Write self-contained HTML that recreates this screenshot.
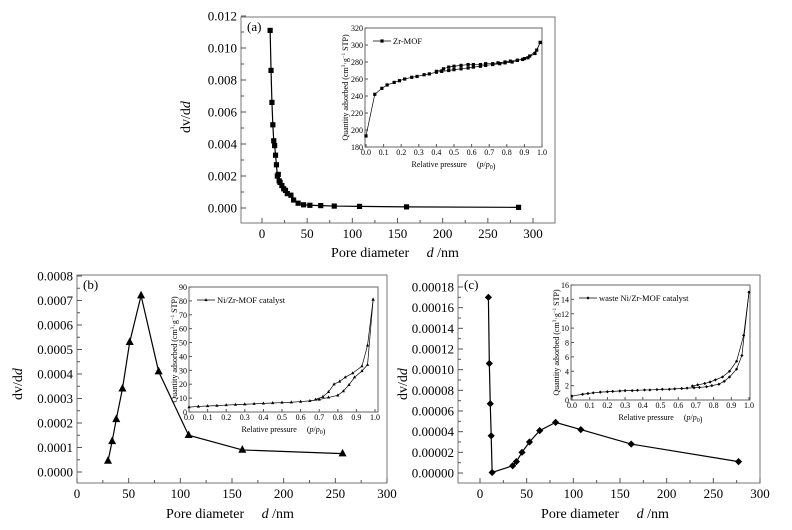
<!DOCTYPE html>
<html><head><meta charset="utf-8"><style>
body{margin:0;background:#fff}
svg{display:block;font-family:"Liberation Serif",serif}
</style></head><body>
<svg id="s" width="792" height="530" viewBox="0 0 792 530"></svg>
<script>
// Panel (a) data
const aD=[9,10,11,12,13,14,15,16,17,18,19,20,22,24,26,28,32,35,40,46,53,65,80,108,160,284];
const aV=[0.0111,0.0086,0.0066,0.0052,0.0042,0.0039,0.0033,0.0027,0.0020,0.0021,0.0017,0.0016,0.0014,0.0012,0.0011,0.0009,0.0008,0.0005,0.0003,0.0002,0.00017,0.00015,0.00012,0.0001,0.00007,0.00004];
const aYTicks=[0,0.002,0.004,0.006,0.008,0.010,0.012];
const aYLabels=["0.000","0.002","0.004","0.006","0.008","0.010","0.012"];
const aInsAdsP=[0,0.05,0.09,0.12,0.16,0.19,0.22,0.26,0.29,0.33,0.36,0.4,0.43,0.47,0.5,0.54,0.58,0.61,0.65,0.68,0.72,0.76,0.79,0.83,0.86,0.9,0.93,0.97,0.99];
const aInsAdsQ=[193,242,249,253,256,258,260,262,263,265,266,268,269,270,271,272,273,274,275,276,277,278,279,280,282,284,287,294,303];
const aInsDesP=[0.99,0.96,0.92,0.89,0.86,0.82,0.79,0.75,0.72,0.68,0.65,0.61,0.58,0.54,0.5,0.47,0.44,0.4];
const aInsDesQ=[303,290,285,283,282,281,280,279,278,278,277,277,277,276,275,274,272,269];
// Panel (b) data
const bD=[30,34,38,44,51,62,79,108,160,257];
const bV=[0.000045,0.000125,0.000215,0.00034,0.00053,0.00072,0.00041,0.00015,0.00009,0.000075];
const bYTicks=[0,0.0001,0.0002,0.0003,0.0004,0.0005,0.0006,0.0007,0.0008];
const bYLabels=["0.0000","0.0001","0.0002","0.0003","0.0004","0.0005","0.0006","0.0007","0.0008"];
const bInsAdsP=[0,0.05,0.1,0.15,0.2,0.25,0.3,0.35,0.4,0.45,0.5,0.55,0.6,0.65,0.7,0.75,0.8,0.83,0.86,0.89,0.93,0.96,0.99];
const bInsAdsQ=[3.5,4,4.3,4.6,5,5.3,5.6,5.9,6.2,6.5,6.8,7,7.5,8,9,10.5,12,15,19.5,25,29.5,34,81];
const bInsDesP=[0.99,0.96,0.93,0.88,0.84,0.81,0.78,0.75,0.72,0.68];
const bInsDesQ=[81,48,33,28,25,22,20,14.5,11,9];
// Panel (c) data
const cD=[9,10,11,12,13,35,39,45,53,64,81,108,162,277];
const cV=[0.00017,0.000106,0.000067,0.000036,0.0000005,0.000007,0.000011,0.00002,0.00003,0.000041,0.000049,0.000042,0.000028,0.000011];
const cYTicks=[0,0.00002,0.00004,0.00006,0.00008,0.0001,0.00012,0.00014,0.00016,0.00018];
const cYLabels=["0.00000","0.00002","0.00004","0.00006","0.00008","0.00010","0.00012","0.00014","0.00016","0.00018"];
const cInsAdsP=[0,0.06,0.09,0.12,0.16,0.2,0.23,0.27,0.3,0.34,0.37,0.41,0.44,0.48,0.51,0.55,0.58,0.62,0.65,0.69,0.72,0.76,0.79,0.83,0.86,0.89,0.93,0.96,1.0];
const cInsAdsQ=[0.55,0.8,0.9,1.0,1.1,1.15,1.2,1.25,1.3,1.3,1.35,1.4,1.4,1.45,1.5,1.5,1.55,1.6,1.65,1.7,1.75,1.85,2.0,2.2,2.6,3.2,4.3,6.2,15];
const cInsDesP=[1.0,0.97,0.93,0.89,0.85,0.81,0.78,0.75,0.71,0.68];
const cInsDesQ=[15,9,5.4,4,3.2,2.8,2.5,2.3,2.1,1.95];
const xTicks=[0,50,100,150,200,250,300];
const pTicks=[0,0.1,0.2,0.3,0.4,0.5,0.6,0.7,0.8,0.9,1.0];

const S=document.getElementById('s');const NS='http://www.w3.org/2000/svg';
function el(t,a,p){const e=document.createElementNS(NS,t);for(const k in a)e.setAttribute(k,a[k]);(p||S).appendChild(e);return e;}
function txt(x,y,s,fs,anch,p,rot){const e=el('text',{x:x,y:y,'font-size':fs,'text-anchor':anch||'middle',fill:'#000'},p);if(rot)e.setAttribute('transform','rotate(-90 '+x+' '+y+')');e.innerHTML=s;return e;}
function lin(x0,x1,px0,px1){return v=>px0+(v-x0)*(px1-px0)/(x1-x0);}
function marker(g,type,x,y,r){
  let m;
  if(type==='sq')m=el('rect',{x:x-r,y:y-r,width:2*r,height:2*r,fill:'#000'},g);
  else if(type==='tri')m=el('polygon',{points:`${x},${y-r*1.2} ${x-r},${y+r*0.7} ${x+r},${y+r*0.7}`,fill:'#000'},g);
  else if(type==='dia')m=el('polygon',{points:`${x},${y-r} ${x+r},${y} ${x},${y+r} ${x-r},${y}`,fill:'#000'},g);
  else m=el('circle',{cx:x,cy:y,r:r,fill:'#000'},g);
  
  
}
function series(g,xs,ys,X,Y,type,r,sw){
  const pts=xs.map((v,i)=>X(v)+','+Y(ys[i])).join(' ');
  const pl=el('polyline',{points:pts,fill:'none',stroke:'#000','stroke-width':sw},g);
  
  
  xs.forEach((v,i)=>marker(g,type,X(v),Y(ys[i]),r));
}
function mainPanel(cfg){
  const g=el('g',{});
  const X=lin(0,300,cfg.x0,cfg.x300),Y=lin(0,cfg.ytop,cfg.y0,cfg.ytopPx);
  el('rect',{x:cfg.L,y:cfg.T,width:cfg.R-cfg.L,height:cfg.B-cfg.T,fill:'none',stroke:'#777','stroke-width':1},g);
  xTicks.forEach(t=>{el('line',{x1:X(t),x2:X(t),y1:cfg.B,y2:cfg.B-5,stroke:'#555'},g);txt(X(t),cfg.B+15,t,13,'middle',g);
    if(t<300){const m=X(t+25);el('line',{x1:m,x2:m,y1:cfg.B,y2:cfg.B-3,stroke:'#555'},g);}});
  cfg.yt.forEach((t,i)=>{el('line',{x1:cfg.L,x2:cfg.L+5,y1:Y(t),y2:Y(t),stroke:'#555'},g);txt(cfg.L-4,Y(t)+4.5,cfg.yl[i],13,'end',g);
    if(i<cfg.yt.length-1){const m=Y((t+cfg.yt[i+1])/2);el('line',{x1:cfg.L,x2:cfg.L+3,y1:m,y2:m,stroke:'#555'},g);}});
  txt(cfg.L+6,cfg.T+14,'('+cfg.id+')',13,'start',g);
  const yl=txt(cfg.ylx,cfg.yly,'dv/d<tspan font-style="italic">d</tspan>',14,'middle',g,true);
  const xl=txt(cfg.xlx,cfg.xly,'Pore diameter &#160;&#160;&#160; <tspan font-style="italic">d</tspan> /nm',14,'middle',g);
  series(g,cfg.d,cfg.v,X,Y,cfg.mk,cfg.mr,1.2);
}
function inset(cfg){
  const g=el('g',{});
  const X=lin(0,1,cfg.p0,cfg.p1),Y=lin(cfg.ymin,cfg.ymax,cfg.B,cfg.T);
  el('rect',{x:cfg.L,y:cfg.T,width:cfg.R-cfg.L,height:cfg.B-cfg.T,fill:'#fff',stroke:'#666','stroke-width':1},g);
  pTicks.forEach(t=>{el('line',{x1:X(t),x2:X(t),y1:cfg.B,y2:cfg.B-3,stroke:'#555'},g);txt(X(t),cfg.B+8,t.toFixed(1),8,'middle',g);});
  cfg.yt.forEach(t=>{el('line',{x1:cfg.L,x2:cfg.L+3,y1:Y(t),y2:Y(t),stroke:'#555'},g);txt(cfg.L-2,Y(t)+3,t,8,'end',g);});
  txt((cfg.L+cfg.R)/2,cfg.B+20,'Relative pressure &#160;&#160;&#160; (<tspan font-style="italic">p</tspan>/<tspan font-style="italic">p</tspan><tspan font-size="6" dy="2">0</tspan>)',8,'middle',g);
  txt(cfg.L-cfg.yo,(cfg.T+cfg.B)/2,'Quantity adsorbed (cm<tspan font-size="5" dy="-3">3</tspan><tspan dy="3">·g</tspan><tspan font-size="5" dy="-3">−1</tspan><tspan dy="3"> STP)</tspan>',8,'middle',g,true);
  el('line',{x1:cfg.L+8,x2:cfg.L+26,y1:cfg.T+13,y2:cfg.T+13,stroke:'#000','stroke-width':0.8},g);
  marker(g,cfg.mk,cfg.L+17,cfg.T+13,1.6);
  const lg=txt(cfg.L+28,cfg.T+16,cfg.name,8.5,'start',g);
  series(g,cfg.ap,cfg.aq,X,Y,cfg.mk,1.6,0.7);
  series(g,cfg.dp,cfg.dq,X,Y,cfg.mk,1.6,0.7);
}
mainPanel({id:'a',L:241,R:555,T:17,B:223,x0:262,x300:533,y0:208,ytop:0.012,ytopPx:16,yt:aYTicks,yl:aYLabels,ylx:190,yly:117,xlx:395,xly:257,d:aD,v:aV,mk:'sq',mr:2.6});
inset({id:'a',L:365,R:542,T:28,B:147,p0:366,p1:542,ymin:180,ymax:320,yt:[180,200,220,240,260,280,300,320],yo:17,name:'Zr-MOF',ap:aInsAdsP,aq:aInsAdsQ,dp:aInsDesP,dq:aInsDesQ,mk:'sq'});
mainPanel({id:'b',L:77,R:387,T:275,B:483,x0:77,x300:387,y0:472,ytop:0.0008,ytopPx:276,yt:bYTicks,yl:bYLabels,ylx:22,yly:384,xlx:230,xly:518,d:bD,v:bV,mk:'tri',mr:4});
inset({id:'b',L:189,R:378,T:287,B:412,p0:189,p1:375,ymin:0,ymax:90,yt:[0,10,20,30,40,50,60,70,80,90],yo:12,name:'Ni/Zr-MOF catalyst',ap:bInsAdsP,aq:bInsAdsQ,dp:bInsDesP,dq:bInsDesQ,mk:'tri'});
mainPanel({id:'c',L:458,R:760,T:275,B:483,x0:480,x300:760,y0:473,ytop:0.00018,ytopPx:287,yt:cYTicks,yl:cYLabels,ylx:407,yly:384,xlx:605,xly:518,d:cD,v:cV,mk:'dia',mr:3.6});
inset({id:'c',L:571,R:750,T:285,B:400,p0:572,p1:749,ymin:0,ymax:16,yt:[0,2,4,6,8,10,12,14,16],yo:12,name:'waste Ni/Zr-MOF catalyst',ap:cInsAdsP,aq:cInsAdsQ,dp:cInsDesP,dq:cInsDesQ,mk:'dia'});
</script>
</body></html>
